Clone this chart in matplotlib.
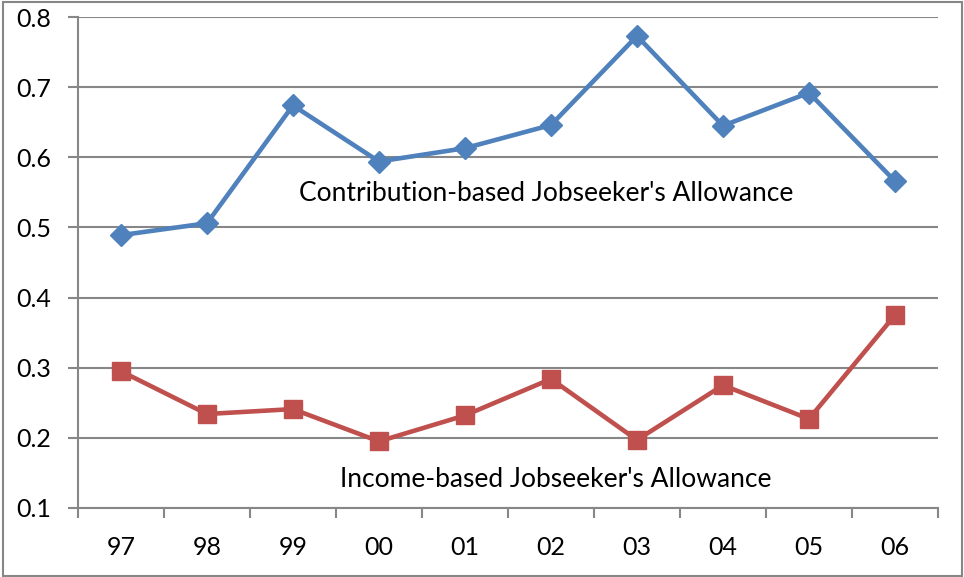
import matplotlib.pyplot as plt
from matplotlib.patches import Rectangle

years = ['97', '98', '99', '00', '01', '02', '03', '04', '05', '06']
contribution = [0.489, 0.506, 0.674, 0.594, 0.613, 0.646, 0.773, 0.645, 0.692, 0.566]
income = [0.295, 0.234, 0.241, 0.195, 0.232, 0.284, 0.197, 0.275, 0.227, 0.375]

plt.rcParams['font.family'] = ['Lato', 'DejaVu Sans']

fig = plt.figure(figsize=(9.64, 5.77), dpi=100)
ax = fig.add_axes([0.0809, 0.1196, 0.8921, 0.8509])

xs = range(len(years))
ax.plot(xs, contribution, color='#4F81BD', lw=3.3, marker='D', ms=11,
        markeredgecolor='#4F81BD', zorder=3)
ax.plot(xs, income, color='#C0504D', lw=3.3, marker='s', ms=13,
        markeredgecolor='#C0504D', zorder=3)

ax.text(4.94, 0.549, "Contribution-based Jobseeker's Allowance",
        ha='center', va='center', fontsize=19)
ax.text(5.05, 0.141, "Income-based Jobseeker's Allowance",
        ha='center', va='center', fontsize=19)

ax.set_xlim(-0.5, len(years) - 0.5)
ax.set_ylim(0.1, 0.8)
ax.set_yticks([0.1, 0.2, 0.3, 0.4, 0.5, 0.6, 0.7, 0.8])
ax.set_yticklabels(['0.1', '0.2', '0.3', '0.4', '0.5', '0.6', '0.7', '0.8'])
ax.set_xticks(xs)
ax.set_xticklabels(years)
# category boundary ticks on the x axis
ax.set_xticks([i - 0.5 for i in range(len(years) + 1)], minor=True)
ax.tick_params(axis='x', which='major', length=0, pad=20, labelsize=18)
ax.tick_params(axis='x', which='minor', length=7, width=1.5, color='#878787')
ax.tick_params(axis='y', length=7, width=1.5, color='#878787', pad=12, labelsize=18)

ax.grid(axis='y', color='#878787', lw=1.5)
ax.set_axisbelow(True)
for side in ['top', 'right']:
    ax.spines[side].set_visible(False)
for side in ['left', 'bottom']:
    ax.spines[side].set_color('#878787')
    ax.spines[side].set_linewidth(1.5)

fig.patches.append(Rectangle((0.003, 0.002), 0.995, 0.994, transform=fig.transFigure,
                             fill=False, edgecolor='#878787', lw=1.5))

fig.savefig('out.png', dpi=100)
